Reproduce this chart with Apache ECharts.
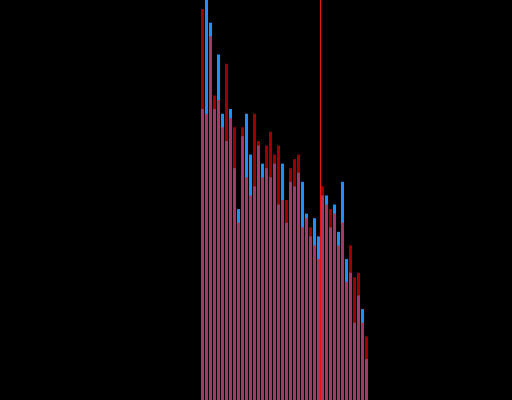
<!DOCTYPE html>
<html>
<head>
<meta charset="utf-8">
<script src="https://cdn.jsdelivr.net/npm/echarts@6/dist/echarts.min.js"></script>
<style>
  html, body { margin: 0; padding: 0; background: #000; }
  #chart { width: 512px; height: 400px; }
</style>
</head>
<body>
<div id="chart"></div>
<script>
// Bin indices (42 bins)
var bins = [0,1,2,3,4,5,6,7,8,9,10,11,12,13,14,15,16,17,18,19,20,
            21,22,23,24,25,26,27,28,29,30,31,32,33,34,35,36,37,38,39,40,41];
// Counts per bin, series A (blue)
var blueCounts = [64,95,83,64,76,63,57,64,51,42,58,63,54,47,56,52,51,49,52,43,52,
                  39,48,47,50,48,41,36,40,36,45,45,38,43,37,48,31,28,17,23,20,9];
// Counts per bin, series B (red)
var redCounts = [86,63,80,67,66,60,74,62,60,39,60,49,45,63,57,49,56,59,54,56,44,
                 44,51,53,54,38,40,38,34,31,47,43,42,41,34,39,26,34,27,28,17,14];
// Vertical reference line position (in bin units)
var refLine = 29.5;
var yMax = 88;

var blueData = bins.map(function (b, i) { return [b, blueCounts[i]]; });
var redData = bins.map(function (b, i) { return [b, redCounts[i]]; });

var chart = echarts.init(document.getElementById('chart'), null, { renderer: 'canvas' });
chart.setOption({
  backgroundColor: '#000000',
  animation: false,
  grid: { left: 200.5, top: 0, bottom: 0, width: 168, containLabel: false },
  xAxis: {
    type: 'value', min: -0.5, max: 41.5,
    show: false, splitLine: { show: false }
  },
  yAxis: {
    type: 'value', min: 0, max: yMax,
    show: false, splitLine: { show: false }
  },
  series: [
    {
      type: 'bar', data: blueData, barWidth: 3, barGap: '-100%', clip: true,
      itemStyle: { color: '#1e90ff' }
    },
    {
      type: 'bar', data: redData, barWidth: 3, barGap: '-100%', clip: true,
      itemStyle: { color: '#ff0000', opacity: 0.6 },
      markLine: {
        silent: true, symbol: 'none', animation: false,
        label: { show: false },
        lineStyle: { color: '#f01010', width: 1, type: 'solid', opacity: 1 },
        data: [{ xAxis: refLine }]
      }
    }
  ]
});
</script>
</body>
</html>
